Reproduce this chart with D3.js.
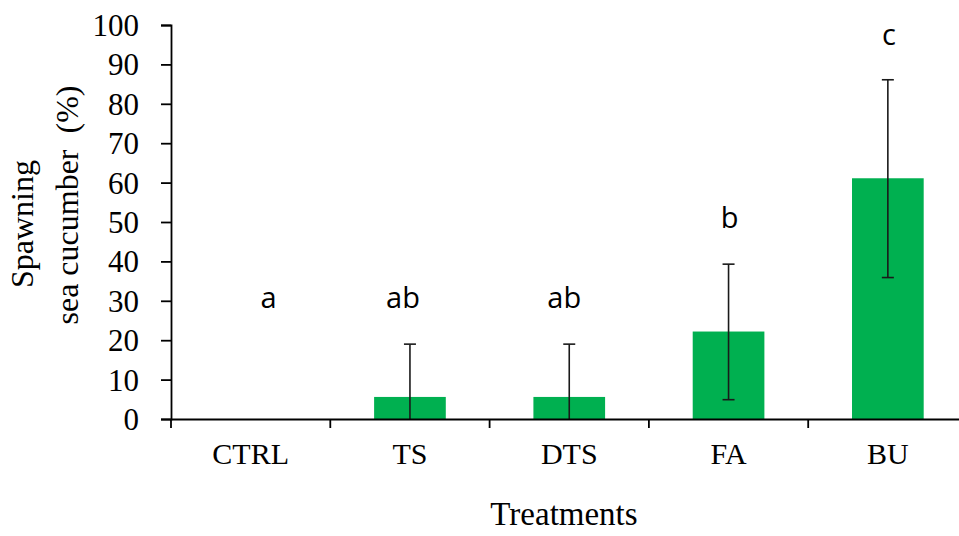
<!DOCTYPE html>
<meta charset="utf-8">
<style>
  body { margin: 0; background: #fff; }
  text { font-family: "Liberation Serif", "Times New Roman", serif; fill: #000; }
  .letter { font-family: "Open Sans", sans-serif; font-size: 29px; }
</style>
<body>
<script src="https://d3js.org/d3.v7.min.js"></script>
<script>
  // data
  var treatments = ["CTRL", "TS", "DTS", "FA", "BU"];
  var spawning = [0, 5.6, 5.6, 22.2, 61.1];
  var errLow = [0, 0, 0, 4.9, 35.9];
  var errHigh = [0, 19, 19, 39.3, 86.1];
  var letters = ["a", "ab", "ab", "b", "c"];
  var letterAt = [28.2, 28.2, 28.2, 48.6, 95];
  var yTicks = [0, 10, 20, 30, 40, 50, 60, 70, 80, 90, 100];

  var svg = d3.select("body").append("svg")
          .attr("width", 959)
          .attr("height", 536);

  var x = d3.scaleBand().domain(treatments).range([171, 967.5]).padding(0);
  var y = d3.scaleLinear().domain([0, 100]).range([419, 25]);
  var barW = x.bandwidth() * 0.45;
  // letters in the original are not quite centred on the bars
  var letterShift = [18, -7, -5, 1, 1];

  var rows = treatments.map(function(t, i) {
    return {name: t, value: spawning[i], lo: errLow[i], hi: errHigh[i], letter: letters[i], ly: letterAt[i], dx: letterShift[i]};
  });

  // bars
  svg.selectAll("rect.bar")
          .data(rows.filter(function(d) { return d.value > 0; }))
          .enter().append("rect")
          .attr("class", "bar")
          .attr("x", function(d) { return x(d.name) + (x.bandwidth() - barW) / 2; })
          .attr("width", barW)
          .attr("y", function(d) { return y(d.value); })
          .attr("height", function(d) { return y(0) - y(d.value); })
          .style("fill", "#00B050");

  // error bars
  var eb = svg.selectAll("g.err")
          .data(rows.filter(function(d) { return d.hi > 0; }))
          .enter().append("g")
          .attr("class", "err")
          .attr("transform", function(d) { return "translate(" + (x(d.name) + x.bandwidth() / 2) + ",0)"; })
          .style("stroke", "#1a1a1a")
          .style("stroke-width", 1.6);
  eb.append("line")
          .attr("y1", function(d) { return y(d.lo); })
          .attr("y2", function(d) { return y(d.hi); });
  eb.append("line")
          .attr("x1", -6).attr("x2", 6)
          .attr("y1", function(d) { return y(d.hi); })
          .attr("y2", function(d) { return y(d.hi); });
  eb.filter(function(d) { return d.lo > 0; }).append("line")
          .attr("x1", -6).attr("x2", 6)
          .attr("y1", function(d) { return y(d.lo); })
          .attr("y2", function(d) { return y(d.lo); });

  // significance letters
  svg.selectAll("text.letter")
          .data(rows)
          .enter().append("text")
          .attr("class", "letter")
          .attr("x", function(d) { return x(d.name) + x.bandwidth() / 2 + d.dx; })
          .attr("y", function(d) { return y(d.ly); })
          .attr("text-anchor", "middle")
          .text(function(d) { return d.letter; });

  // y axis
  var yAxis = svg.append("g")
          .attr("transform", "translate(171,0)")
          .call(d3.axisLeft(y).tickValues(yTicks).tickSize(10).tickPadding(22));
  yAxis.selectAll("text").style("font-size", "31px").attr("dy", "0.34em");

  // x axis: labels at centres, ticks on slot boundaries
  var xAxis = svg.append("g")
          .attr("transform", "translate(0,419)")
          .call(d3.axisBottom(x).tickSize(0).tickSizeOuter(0).tickPadding(24));
  xAxis.selectAll("text").style("font-size", "30px");
  xAxis.selectAll(".bound")
          .data(treatments)
          .enter().append("line")
          .attr("class", "bound")
          .attr("x1", function(d) { return x(d); })
          .attr("x2", function(d) { return x(d); })
          .attr("y1", 0).attr("y2", 9);

  svg.selectAll(".domain, .tick line, .bound").style("stroke", "#000").style("stroke-width", 1.8);

  // axis titles
  svg.append("text")
          .attr("transform", "translate(33,224) rotate(-90)")
          .attr("text-anchor", "middle")
          .style("font-size", "32px")
          .text("Spawning");
  svg.append("text")
          .attr("transform", "translate(78,205) rotate(-90)")
          .attr("text-anchor", "middle")
          .style("font-size", "32px")
          .style("white-space", "pre")
          .text("sea cucumber  (%)");
  svg.append("text")
          .attr("x", 564)
          .attr("y", 525)
          .attr("text-anchor", "middle")
          .style("font-size", "33px")
          .text("Treatments");
</script>
</body>
</html>
